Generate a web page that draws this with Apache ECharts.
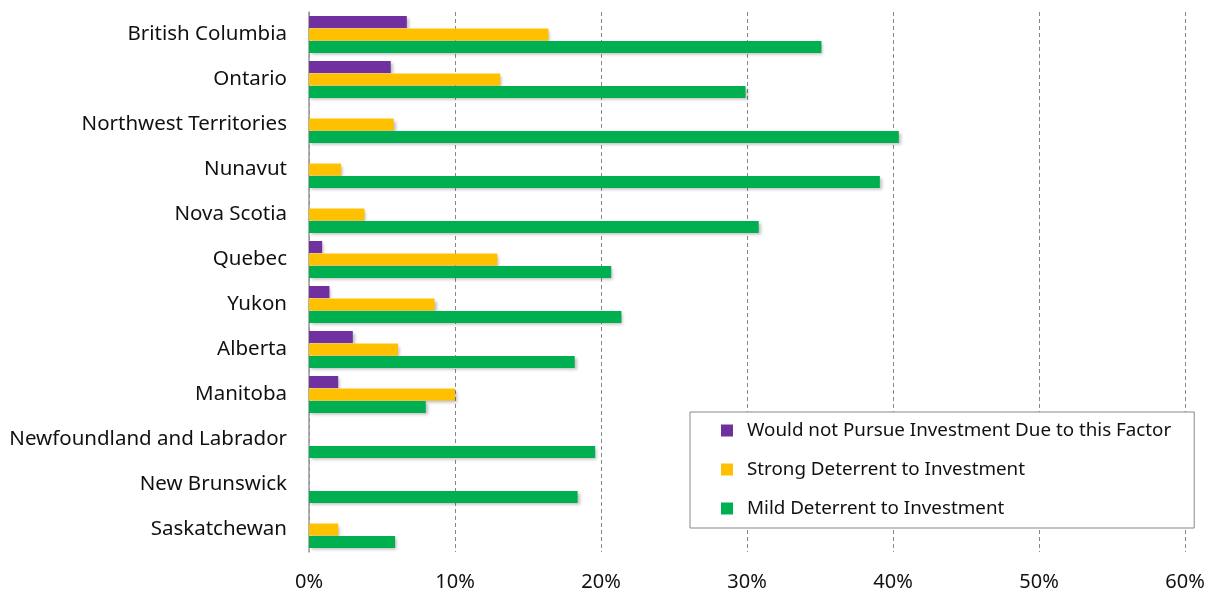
<!DOCTYPE html>
<html>
<head>
<meta charset="utf-8">
<script src="https://cdn.jsdelivr.net/npm/echarts@6/dist/echarts.min.js"></script>
<style>
  html, body { margin: 0; padding: 0; background: #fff; }
  #chart { width: 1209px; height: 593px; }
</style>
</head>
<body>
<div id="chart"></div>
<script>
// provinces, top to bottom
var provinces = ['British Columbia', 'Ontario', 'Northwest Territories', 'Nunavut', 'Nova Scotia',
    'Quebec', 'Yukon', 'Alberta', 'Manitoba', 'Newfoundland and Labrador', 'New Brunswick', 'Saskatchewan'];
var wouldNotPursue = [6.7, 5.6, null, null, null, 0.9, 1.4, 3.0, 2.0, null, null, null];
var strongDeterrent = [16.4, 13.1, 5.8, 2.2, 3.8, 12.9, 8.6, 6.1, 10.0, null, null, 2.0];
var mildDeterrent = [35.1, 29.9, 40.4, 39.1, 30.8, 20.7, 21.4, 18.2, 8.0, 19.6, 18.4, 5.9];
var seriesNames = ['Would not Pursue Investment Due to this Factor', 'Strong Deterrent to Investment', 'Mild Deterrent to Investment'];
var colors = ['#7030A0', '#FFC000', '#00B050'];

var font = '"Noto Sans", sans-serif';

function makeSeries(name, data, color) {
    return {
        name: name,
        type: 'bar',
        data: data,
        barWidth: 12,
        barGap: '4%',
        itemStyle: {
            color: color,
            shadowColor: 'rgba(0,0,0,0.25)',
            shadowBlur: 3,
            shadowOffsetX: 2,
            shadowOffsetY: 2
        }
    };
}

var chart = echarts.init(document.getElementById('chart'));
chart.setOption({
    animation: false,
    textStyle: { fontFamily: font },
    grid: { left: 309, right: 24, top: 12, bottom: 41 },
    legend: {
        orient: 'vertical',
        left: 690,
        top: 412,
        padding: [8, 23, 9, 31],
        itemWidth: 12,
        itemHeight: 12,
        itemGap: 18,
        icon: 'rect',
        backgroundColor: '#fff',
        borderColor: '#888',
        borderWidth: 1,
        textStyle: { fontSize: 18.8, color: '#111', lineHeight: 21, padding: [0, 0, 0, 9] },
        data: seriesNames
    },
    xAxis: {
        type: 'value',
        min: 0,
        max: 60,
        interval: 10,
        axisLine: { show: false },
        axisTick: { show: false },
        axisLabel: { formatter: '{value}%', fontSize: 20, color: '#111', margin: 20 },
        splitLine: { lineStyle: { type: [4, 3], color: '#888', width: 1 } }
    },
    yAxis: {
        type: 'category',
        inverse: true,
        data: provinces,
        axisLine: { lineStyle: { color: '#999', width: 1.5 } },
        axisTick: { length: 6, lineStyle: { color: '#999', width: 1.5 } },
        axisLabel: { fontSize: 20.5, color: '#111', margin: 22 }
    },
    series: [
        makeSeries(seriesNames[0], wouldNotPursue, colors[0]),
        makeSeries(seriesNames[1], strongDeterrent, colors[1]),
        makeSeries(seriesNames[2], mildDeterrent, colors[2])
    ]
});
</script>
</body>
</html>
